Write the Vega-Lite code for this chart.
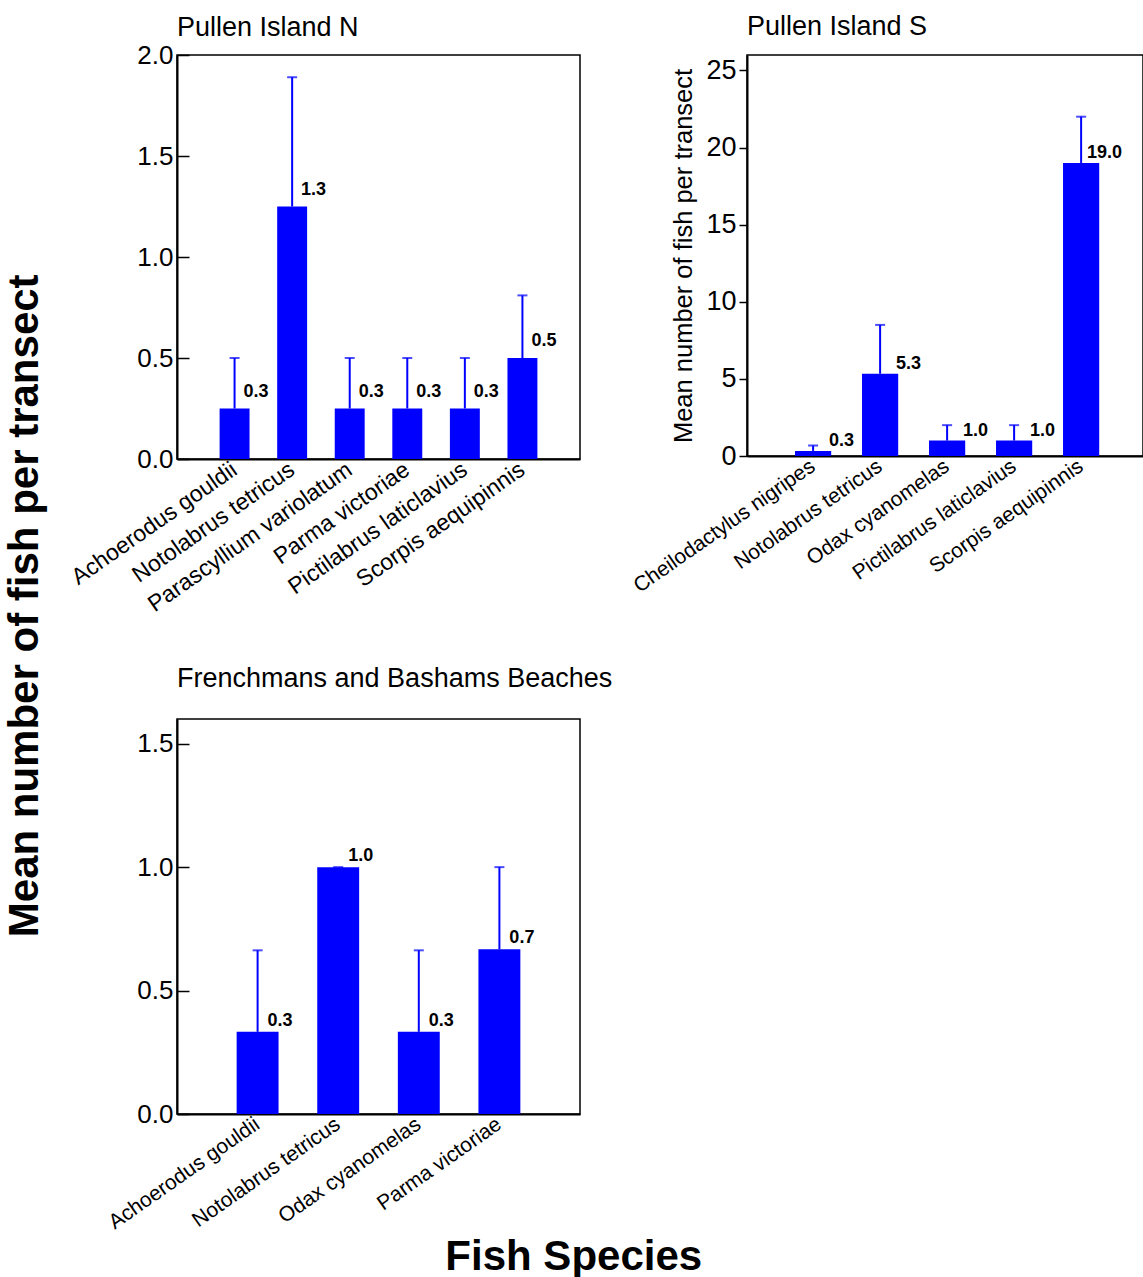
{
  "$schema": "https://vega.github.io/schema/vega-lite/v6.json",
  "background": "white",
  "padding": {"left": 3, "top": 12, "right": 0, "bottom": 0},
  "datasets": {
    "pn": [
      {"species": "Achoerodus gouldii", "mean": 0.25, "upper": 0.5, "label": "0.3"},
      {"species": "Notolabrus tetricus", "mean": 1.25, "upper": 1.89, "label": "1.3"},
      {"species": "Parascyllium variolatum", "mean": 0.25, "upper": 0.5, "label": "0.3"},
      {"species": "Parma victoriae", "mean": 0.25, "upper": 0.5, "label": "0.3"},
      {"species": "Pictilabrus laticlavius", "mean": 0.25, "upper": 0.5, "label": "0.3"},
      {"species": "Scorpis aequipinnis", "mean": 0.5, "upper": 0.81, "label": "0.5"}
    ],
    "ps": [
      {"species": "Cheilodactylus nigripes", "mean": 0.33, "upper": 0.68, "label": "0.3"},
      {"species": "Notolabrus tetricus", "mean": 5.33, "upper": 8.5, "label": "5.3"},
      {"species": "Odax cyanomelas", "mean": 1.0, "upper": 2.0, "label": "1.0"},
      {"species": "Pictilabrus laticlavius", "mean": 1.0, "upper": 2.0, "label": "1.0"},
      {"species": "Scorpis aequipinnis", "mean": 19.0, "upper": 22.0, "label": "19.0"}
    ],
    "fb": [
      {"species": "Achoerodus gouldii", "mean": 0.333, "upper": 0.663, "label": "0.3"},
      {"species": "Notolabrus tetricus", "mean": 1.0, "upper": 1.0, "label": "1.0"},
      {"species": "Odax cyanomelas", "mean": 0.333, "upper": 0.663, "label": "0.3"},
      {"species": "Parma  victoriae", "mean": 0.667, "upper": 1.0, "label": "0.7"}
    ]
  },
  "title": {"text": "Fish Species", "orient": "bottom", "anchor": "middle", "fontSize": 42, "fontWeight": "bold", "font": "Liberation Sans", "color": "black", "offset": 4},
  "vconcat": [
    {
      "title": {"text": "Mean number of fish per transect", "orient": "left", "anchor": "middle", "fontSize": 42, "fontWeight": "bold", "font": "Liberation Sans", "color": "black", "offset": 20, "dx": 17},
      "columns": 2,
      "bounds": "flush",
      "spacing": {"column": 167, "row": 260},
      "concat": [
        {
          "width": 403, "height": 404,
          "title": {"text": "Pullen Island N", "anchor": "start", "frame": "group", "fontSize": 27, "fontWeight": "normal", "offset": 0},
          "data": {"name": "pn"},
          "encoding": {
            "x": {"field": "species", "type": "nominal", "sort": null, "title": null,
              "scale": {"paddingInner": 0.48, "paddingOuter": 0.74},
              "axis": {"ticks": false, "labelAngle": -35, "labelAlign": "right", "labelBaseline": "middle", "labelFontSize": 23, "labelPadding": 8, "labelLimit": 400}}
          },
          "layer": [
            {"mark": {"type": "bar", "color": "#0000ff"},
             "encoding": {"y": {"field": "mean", "type": "quantitative", "title": null, "scale": {"domain": [0, 2]},
               "axis": {"values": [0, 0.5, 1, 1.5, 2], "format": ".1f", "labelFontSize": 26, "tickSize": -12, "tickWidth": 1.5, "labelPadding": 16}}}},
            {"mark": {"type": "rule", "color": "#0000ff", "strokeWidth": 2},
             "encoding": {"y": {"field": "mean", "type": "quantitative", "title": null}, "y2": {"field": "upper"}}},
            {"mark": {"type": "tick", "color": "#0000ff", "thickness": 2, "size": 10},
             "encoding": {"y": {"field": "upper", "type": "quantitative", "title": null}}},
            {"mark": {"type": "text", "align": "right", "baseline": "middle", "dx": 34, "dy": -17, "fontWeight": "bold", "fontSize": 18, "color": "black"},
             "encoding": {"y": {"field": "mean", "type": "quantitative", "title": null}, "text": {"field": "label"}}}
          ]
        },
        {
          "width": 396, "height": 401,
          "title": {"text": "Pullen Island S", "anchor": "start", "frame": "group", "fontSize": 27, "fontWeight": "normal", "offset": 14},
          "data": {"name": "ps"},
          "encoding": {
            "x": {"field": "species", "type": "nominal", "sort": null, "title": null,
              "scale": {"paddingInner": 0.46, "paddingOuter": 0.685, "align": 0.523},
              "axis": {"ticks": false, "labelAngle": -35, "labelAlign": "right", "labelBaseline": "middle", "labelFontSize": 21, "labelPadding": 8, "labelLimit": 400}}
          },
          "layer": [
            {"mark": {"type": "bar", "color": "#0000ff"},
             "encoding": {"y": {"field": "mean", "type": "quantitative", "title": "Mean number of fish per transect", "scale": {"domain": [0, 25]},
               "axis": {"values": [0, 5, 10, 15, 20, 25], "format": "d", "labelFontSize": 27, "tickSize": 8, "tickWidth": 1.5, "labelPadding": 3, "titleFontSize": 25.5, "titleFontWeight": "normal", "titlePadding": 9}}}},
            {"mark": {"type": "rule", "color": "#0000ff", "strokeWidth": 2},
             "encoding": {"y": {"field": "mean", "type": "quantitative", "title": "Mean number of fish per transect"}, "y2": {"field": "upper"}}},
            {"mark": {"type": "tick", "color": "#0000ff", "thickness": 2, "size": 10},
             "encoding": {"y": {"field": "upper", "type": "quantitative", "title": "Mean number of fish per transect"}}},
            {"mark": {"type": "text", "align": "right", "baseline": "middle", "dx": 41, "dy": -10, "fontWeight": "bold", "fontSize": 18, "color": "black"},
             "encoding": {"y": {"field": "mean", "type": "quantitative", "title": "Mean number of fish per transect"}, "text": {"field": "label"}}}
          ]
        },
        {
          "width": 403, "height": 395,
          "title": {"text": "Frenchmans and Bashams Beaches", "anchor": "start", "frame": "group", "fontSize": 27, "fontWeight": "normal", "offset": 26},
          "data": {"name": "fb"},
          "encoding": {
            "x": {"field": "species", "type": "nominal", "sort": null, "title": null,
              "scale": {"paddingInner": 0.48, "paddingOuter": 0.74},
              "axis": {"ticks": false, "labelAngle": -35, "labelAlign": "right", "labelBaseline": "middle", "labelFontSize": 21, "labelPadding": 8, "labelLimit": 400}}
          },
          "layer": [
            {"mark": {"type": "bar", "color": "#0000ff"},
             "encoding": {"y": {"field": "mean", "type": "quantitative", "title": null, "scale": {"domain": [0, 1.5]},
               "axis": {"values": [0, 0.5, 1, 1.5], "format": ".1f", "labelFontSize": 26, "tickSize": -12, "tickWidth": 1.5, "labelPadding": 16}}}},
            {"mark": {"type": "rule", "color": "#0000ff", "strokeWidth": 2},
             "encoding": {"y": {"field": "mean", "type": "quantitative", "title": null}, "y2": {"field": "upper"}}},
            {"mark": {"type": "tick", "color": "#0000ff", "thickness": 2, "size": 10},
             "encoding": {"y": {"field": "upper", "type": "quantitative", "title": null}}},
            {"mark": {"type": "text", "align": "right", "baseline": "middle", "dx": 35, "dy": -11, "fontWeight": "bold", "fontSize": 18, "color": "black"},
             "encoding": {"y": {"field": "mean", "type": "quantitative", "title": null}, "text": {"field": "label"}}}
          ]
        }
      ]
    }
  ],
  "config": {
    "font": "Liberation Sans",
    "view": {"stroke": "black", "strokeWidth": 1.5},
    "axis": {"domainColor": "black", "domainWidth": 2, "labelColor": "black", "tickColor": "black", "grid": false, "labelFont": "Liberation Sans", "titleFont": "Liberation Sans", "titleColor": "black"},
    "title": {"color": "black", "font": "Liberation Sans"}
  }
}
